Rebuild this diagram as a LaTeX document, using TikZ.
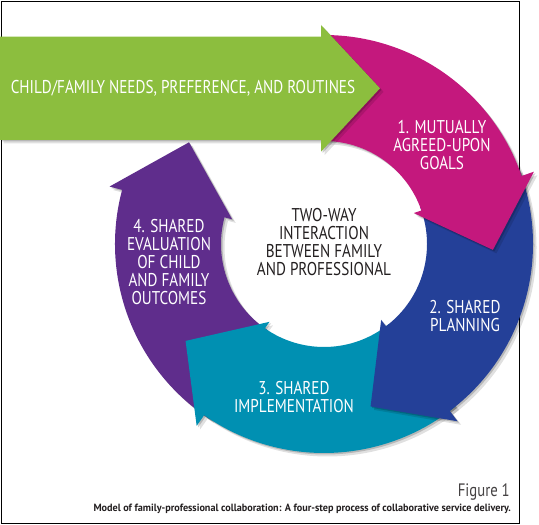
\documentclass[tikz,border=0pt]{standalone}
\usepackage{fontspec}
\setmainfont{PT Sans}[FakeStretch=0.82]
\newfontfamily\capfont{PT Sans}[FakeStretch=0.97]
\usetikzlibrary{shadows}
\definecolor{cgreen}{RGB}{140,190,62}
\definecolor{cmag}{RGB}{196,24,125}
\definecolor{cblue}{RGB}{36,64,152}
\definecolor{cteal}{RGB}{0,144,178}
\definecolor{cpurple}{RGB}{95,45,140}
\definecolor{ctext}{RGB}{35,31,32}
\tikzset{
  ringshadow/.style={drop shadow={shadow xshift=1.5pt,shadow yshift=-1.5pt,opacity=0.18,fill=black},
                     drop shadow={shadow xshift=3.5pt,shadow yshift=-3.5pt,opacity=0.12,fill=black}},
  ringlabel/.style={text=white,align=center,font=\fontsize{18.5}{18}\selectfont,inner sep=0pt},
  centerlabel/.style={text=ctext,align=center,font=\fontsize{18.5}{18}\selectfont,inner sep=0pt},
}
\newcommand\ringarrow[4]{%
  \fill[#1,ringshadow] (#2:209) arc[start angle=#2,end angle=#3,radius=209]
    -- (#3:222) -- (#4:169) -- (#3:95) -- (#3:103)
    arc[start angle=#3,end angle=#2,radius=103] -- cycle;}
\begin{document}
\begin{tikzpicture}[x=1pt,y=1pt]
\useasboundingbox (0,0) rectangle (539,525);
\fill[white] (0,0) rectangle (539,525);
% frame
\draw[line width=1pt,black] (1.5,1.5) rectangle (519.5,523.5);
% ring
\begin{scope}[shift={(324,281)}]
  \ringarrow{cpurple}{-123}{-195}{-217}
  \ringarrow{cteal}{-51}{-125}{-145}
  \ringarrow{cblue}{21}{-53}{-74}
  \ringarrow{cmag}{90}{19}{-2}
\end{scope}
% green input arrow
\fill[cgreen,ringshadow] (0,488.3) -- (321,488.3) -- (321,500) -- (380,436.7)
  -- (321,373.3) -- (321,385) -- (0,385) -- cycle;
% labels
\node[ringlabel] (needs) at (183,436.5) {CHILD/FAMILY NEEDS, PREFERENCE, AND ROUTINES};
\node[ringlabel] (goals) at (442,380) {1. MUTUALLY\\AGREED-UPON\\GOALS};
\node[ringlabel] (plan) at (465,209) {2. SHARED\\PLANNING};
\node[ringlabel] (impl) at (294,128) {3. SHARED\\IMPLEMENTATION};
\node[ringlabel] (eval) at (169,263) {4. SHARED\\EVALUATION\\OF CHILD\\AND FAMILY\\OUTCOMES};
\node[centerlabel] (center) at (324,283) {TWO-WAY\\INTERACTION\\BETWEEN FAMILY\\AND PROFESSIONAL};
\node[anchor=east,text=ctext!85,font=\fontsize{18}{20}\selectfont,inner sep=0pt] (fig) at (510,33) {Figure 1};
\node[anchor=east,text=ctext,font=\capfont\fontsize{10.5}{12}\selectfont\bfseries,inner sep=0pt] (cap) at (511,16.5)
  {Model of family-professional collaboration: A four-step process of collaborative service delivery.};
\end{tikzpicture}
\end{document}
